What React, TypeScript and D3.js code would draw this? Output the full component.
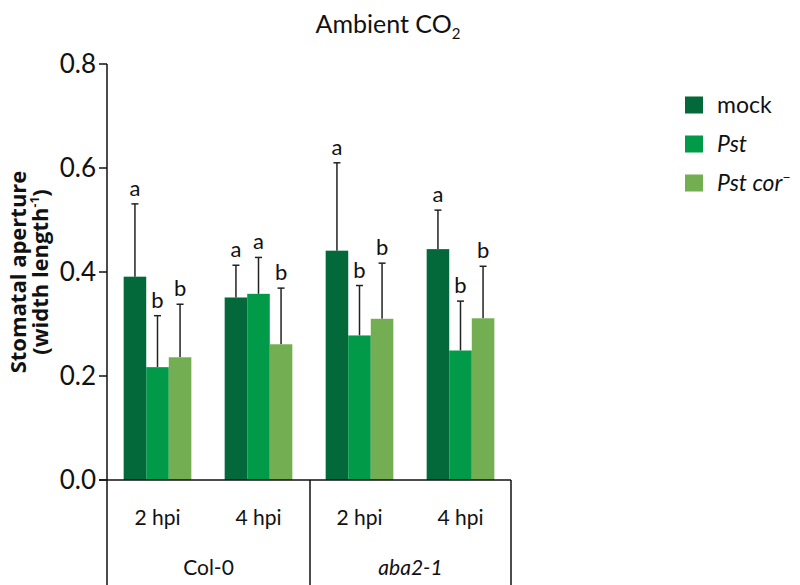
import React, { useRef, useEffect } from 'react';
import * as d3 from 'd3';

const groups = ['Col-0', 'aba2-1'];
const times = ['2 hpi', '4 hpi'];
const series = ['mock', 'Pst', 'Pst cor'];
const colors = ['#03693a', '#019a48', '#74ae52'];

// per bar, order: Col-0 2hpi, Col-0 4hpi, aba2-1 2hpi, aba2-1 4hpi
const mockVals = [0.391, 0.351, 0.441, 0.444];
const pstVals = [0.217, 0.358, 0.278, 0.249];
const corVals = [0.236, 0.261, 0.31, 0.311];
const mockTop = [0.531, 0.413, 0.61, 0.519];
const pstTop = [0.316, 0.428, 0.374, 0.344];
const corTop = [0.338, 0.369, 0.417, 0.411];
const mockLetters = ['a', 'a', 'a', 'a'];
const pstLetters = ['b', 'a', 'b', 'b'];
const corLetters = ['b', 'b', 'b', 'b'];
const yTicks = [0, 0.2, 0.4, 0.6, 0.8];

const FONT = 'Lato, "Open Sans", sans-serif';

function App() {
  const svgRef = useRef<SVGSVGElement>(null);

  useEffect(() => {
    const svg = d3.select(svgRef.current);
    svg.selectAll('*').remove();

    const height = 585;
    const axisLeft = 107;
    const axisRight = 511;
    const y0 = 480;

    const yScale = d3.scaleLinear().domain([0, 0.8]).range([y0, 64]);

    const cats = groups.flatMap(g => times.map(t => `${g}|${t}`));
    const x0 = d3.scaleBand().domain(cats).range([axisLeft, axisRight]).paddingInner(0.33).paddingOuter(0.165);
    const x1 = d3.scaleBand().domain(series).range([0, x0.bandwidth()]);

    const vals = [mockVals, pstVals, corVals];
    const tops = [mockTop, pstTop, corTop];
    const letters = [mockLetters, pstLetters, corLetters];

    // title
    const title = svg.append('text')
      .attr('x', 388).attr('y', 33)
      .attr('text-anchor', 'middle')
      .attr('font-family', FONT).attr('font-size', 25).attr('fill', '#111');
    title.append('tspan').text('Ambient CO');
    title.append('tspan').attr('font-size', 15).attr('dy', 6).text('2');

    // bars
    cats.forEach((c, i) => {
      series.forEach((s, j) => {
        const x = x0(c)! + x1(s)!;
        const w = x1.bandwidth();
        const cx = x + w / 2;
        svg.append('line')
          .attr('x1', cx).attr('x2', cx)
          .attr('y1', yScale(vals[j][i])).attr('y2', yScale(tops[j][i]))
          .attr('stroke', '#222').attr('stroke-width', 1.5);
        svg.append('line')
          .attr('x1', cx - 3.5).attr('x2', cx + 3.5)
          .attr('y1', yScale(tops[j][i])).attr('y2', yScale(tops[j][i]))
          .attr('stroke', '#222').attr('stroke-width', 1.5);
        svg.append('rect')
          .attr('x', x).attr('width', w)
          .attr('y', yScale(vals[j][i])).attr('height', y0 - yScale(vals[j][i]))
          .attr('fill', colors[j]);
        svg.append('text')
          .attr('x', cx).attr('y', yScale(tops[j][i]) - 8)
          .attr('text-anchor', 'middle')
          .attr('font-family', FONT).attr('font-size', 22).attr('fill', '#111')
          .text(letters[j][i]);
      });
    });

    // y axis
    const yAxis = svg.append('g').attr('transform', `translate(${axisLeft},0)`);
    yAxis.append('line').attr('x1', 0).attr('x2', 0).attr('y1', yScale(0.8)).attr('y2', height)
      .attr('stroke', '#111').attr('stroke-width', 1.5);
    yTicks.forEach(t => {
      yAxis.append('line').attr('x1', -8).attr('x2', 0).attr('y1', yScale(t)).attr('y2', yScale(t))
        .attr('stroke', '#111').attr('stroke-width', 1.5);
      yAxis.append('text')
        .attr('x', -11).attr('y', yScale(t)).attr('dy', '0.36em')
        .attr('text-anchor', 'end')
        .attr('font-family', FONT).attr('font-size', 26).attr('fill', '#111')
        .text(d3.format('.1f')(t));
    });

    // y label
    const yl = svg.append('text')
      .attr('transform', 'translate(26,272) rotate(-90)')
      .attr('text-anchor', 'middle')
      .attr('font-family', '"Open Sans", sans-serif').attr('font-size', 22).attr('font-weight', 'bold').attr('fill', '#111');
    yl.append('tspan').attr('x', 0).attr('y', 0).text('Stomatal aperture');
    const l2 = yl.append('tspan').attr('x', 0).attr('y', 22);
    l2.append('tspan').text('(width length');
    l2.append('tspan').attr('font-size', 12).attr('dy', -9).text('-1');
    l2.append('tspan').attr('dy', 9).text(')');

    // x axis
    svg.append('line').attr('x1', axisLeft - 8).attr('x2', axisRight).attr('y1', y0).attr('y2', y0)
      .attr('stroke', '#111').attr('stroke-width', 1.5);
    const mid = (axisLeft + axisRight) / 2 + 1;
    [mid, axisRight].forEach(xv => {
      svg.append('line').attr('x1', xv).attr('x2', xv).attr('y1', y0).attr('y2', height)
        .attr('stroke', '#111').attr('stroke-width', 1.5);
    });
    cats.forEach(c => {
      svg.append('text')
        .attr('x', x0(c)! + x0.bandwidth() / 2).attr('y', 525)
        .attr('text-anchor', 'middle')
        .attr('font-family', FONT).attr('font-size', 21).attr('fill', '#111')
        .text(c.split('|')[1]);
    });
    groups.forEach((g, i) => {
      const gx = i === 0 ? (axisLeft + mid) / 2 : (mid + axisRight) / 2;
      svg.append('text')
        .attr('x', gx).attr('y', 575)
        .attr('text-anchor', 'middle')
        .attr('font-family', FONT).attr('font-size', 21).attr('fill', '#111')
        .attr('font-style', i === 1 ? 'italic' : 'normal')
        .text(g);
    });

    // legend
    series.forEach((s, j) => {
      const ly = 105 + j * 39;
      svg.append('rect').attr('x', 685).attr('y', ly - 8.5).attr('width', 18).attr('height', 17).attr('fill', colors[j]);
      const t = svg.append('text')
        .attr('x', 717).attr('y', ly).attr('dy', '0.36em')
        .attr('font-family', FONT).attr('font-size', 23).attr('fill', '#111');
      if (s === 'mock') {
        t.text('mock');
      } else if (s === 'Pst') {
        t.attr('font-style', 'italic').text('Pst');
      } else {
        t.attr('font-style', 'italic').append('tspan').text('Pst cor');
        t.append('tspan').attr('font-style', 'normal').attr('font-size', 14).attr('dy', -9).text('\u2212');
      }
    });
  }, []);

  return <svg ref={svgRef} width={800} height={585} style={{ display: 'block', position: 'absolute', left: 0, top: 0, background: '#fff' }} />;
}

export default App;
